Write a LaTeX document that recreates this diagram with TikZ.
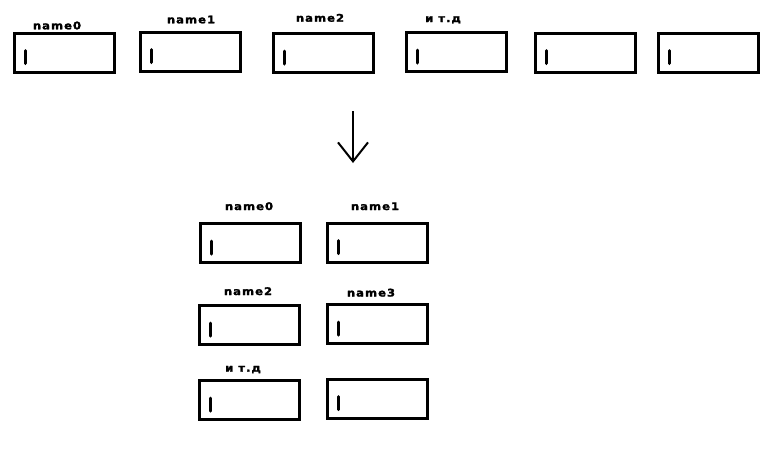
\documentclass[tikz,border=0pt]{standalone}
\usepackage{fontspec}
\newfontfamily\fieldfont[FakeStretch=1.1,LetterSpace=10,FakeBold=2]{DejaVu Sans}
\usepackage{tikz}
\usetikzlibrary{
  arrows.meta
}
\tikzset{
  field box/.style={
    draw=black,
    line width=3pt,
    rectangle,
    inner sep=0pt,
    minimum width=100pt,
    minimum height=39pt
  },
  field label/.style={
    inner sep=0pt,
    anchor=base,
    font=\fieldfont\bfseries\fontsize{10.5}{12}\selectfont
  },
  cursor mark/.style={
    line width=3pt,
    line cap=round
  },
  reshape arrow/.style={
    line width=2pt,
    -{Straight Barb[length=19pt,width=30pt,line width=2pt]}
  }
}

\begin{document}
\begin{tikzpicture}[x=1pt,y=-1pt]

    \useasboundingbox (0,0) rectangle (768,467);

    % ---------- поля в одну строку ----------
    \foreach \n/\x/\y in {
      0/64/52.5,
      1/190.5/51.5,
      2/323/53,
      3/456/52,
      4/585/52.5,
      5/708/52.5
    }{
      \node[field box] (row\n) at (\x,\y) {};
      \draw[cursor mark]
        ([xshift=-39pt,yshift=2pt]row\n.center) --
        ([xshift=-39pt,yshift=-11pt]row\n.center);
    }

    % подписи над полями
    \node[field label] (rowlab0) at (57,29.3) {name0};
    \node[field label] (rowlab1) at (191,23.3) {name1};
    \node[field label] (rowlab2) at (320,21.7) {name2};
    \node[field label] (rowlab3) at (443,22) {и т.д};

    % ---------- стрелка ----------
    \coordinate (arrtop) at (353,111);
    \coordinate (arrbot) at (353,163);
    \draw[reshape arrow] (arrtop) -- (arrbot);

    % ---------- поля в два столбца ----------
    \foreach \n/\x/\y in {
      0/250/243,
      1/377/242.5,
      2/249.5/325,
      3/377/324,
      4/249.5/400,
      5/377/398.5
    }{
      \node[field box] (grid\n) at (\x,\y) {};
      \draw[cursor mark]
        ([xshift=-39pt,yshift=2pt]grid\n.center) --
        ([xshift=-39pt,yshift=-11pt]grid\n.center);
    }

    % подписи над полями
    \node[field label] (gridlab0) at (249,210) {name0};
    \node[field label] (gridlab1) at (375,210) {name1};
    \node[field label] (gridlab2) at (248,295) {name2};
    \node[field label] (gridlab3) at (371,296.5) {name3};
    \node[field label] (gridlab4) at (243,371.7) {и т.д};

  \end{tikzpicture}
\end{document}
